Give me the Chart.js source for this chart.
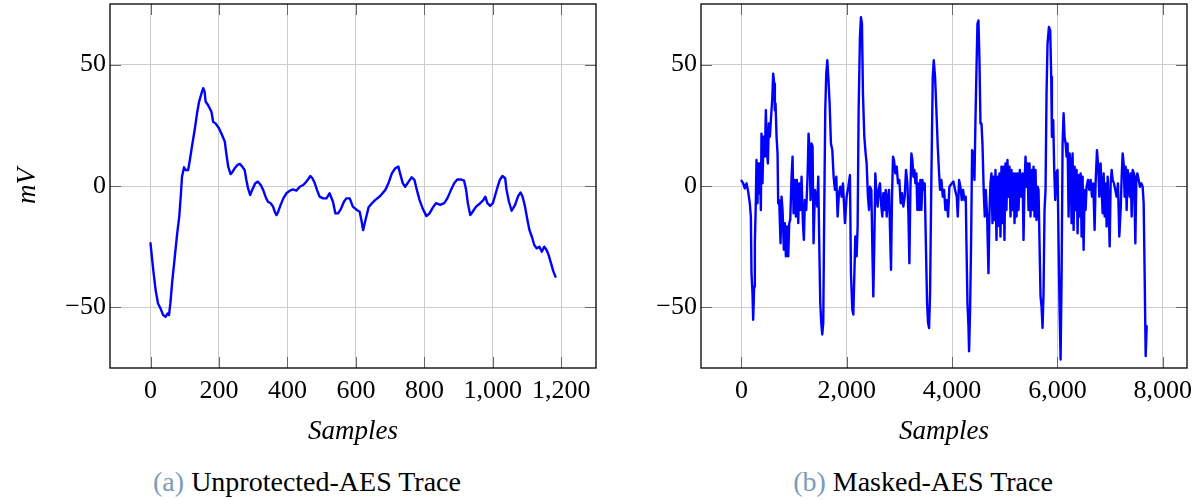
<!DOCTYPE html>
<html lang="en">
<head>
    <meta charset="UTF-8">
    <title>AES Traces</title>
    <style>
        body {
            margin: 0;
            background: #fff;
            font-family: 'Liberation Serif', 'Times New Roman', 'DejaVu Serif', serif;
        }

        #wrap {
            position: relative;
            width: 1203px;
            height: 500px;
        }

        .box {
            position: absolute;
            top: 0;
        }

        .caption {
            position: absolute;
            top: 466px;
            width: 400px;
            text-align: center;
            font-size: 28px;
            color: #000;
            white-space: nowrap;
        }

        .caption span {
            color: #7b9bbd;
        }
    </style>
</head>
<body>
<div id="wrap">
    <div class="box" style="left:0;width:610px;height:460px;"><canvas id="left"></canvas></div>
    <div class="box" style="left:601px;width:602px;height:460px;"><canvas id="right"></canvas></div>
    <div class="caption" style="left:107px;"><span>(a)</span> Unprotected-AES Trace</div>
    <div class="caption" style="left:723px;"><span>(b)</span> Masked-AES Trace</div>
</div>

<script src="https://cdn.jsdelivr.net/npm/chart.js"></script>
<script>
    // (a) unprotected trace, samples vs mV
    const leftX = [0, 8, 15, 22, 29, 37, 44, 50, 54, 58, 63, 71, 78, 84, 89, 92, 98, 102, 110, 115,
        121, 129, 136, 142, 149, 154, 158, 161, 168, 178, 183, 190, 200, 209, 217, 222, 227, 234, 240, 246,
        254, 261, 268, 275, 280, 285, 291, 297, 306, 314, 322, 329, 336, 343, 351, 358, 363, 368, 373, 380,
        388, 397, 407, 416, 426, 436, 446, 453, 460, 467, 473, 480, 487, 494, 504, 514, 523, 533, 540, 548,
        557, 565, 572, 582, 591, 603, 611, 616, 621, 628, 637, 647, 656, 671, 686, 695, 705, 715, 724, 729,
        737, 744, 754, 763, 771, 778, 786, 796, 806, 815, 825, 834, 846, 858, 867, 877, 887, 896, 906, 916,
        922, 927, 934, 941, 951, 963, 972, 978, 984, 992, 1000, 1007, 1014, 1021, 1028, 1036, 1040, 1047, 1055, 1065,
        1074, 1081, 1087, 1094, 1101, 1107, 1114, 1121, 1128, 1136, 1143, 1150, 1157, 1163, 1170, 1177, 1183];
    const leftY = [-23.6, -34.6, -42.9, -48.4, -50.4, -53.2, -53.9, -52.5, -53.2, -48.4, -40.1, -29.1, -19.5, -12.6, -3.0, 3.8, 7.7, 6.6, 6.6, 10.7,
        16.2, 23.1, 30.0, 34.8, 38.2, 40.3, 38.9, 34.8, 33.4, 30.6, 26.5, 25.8, 23.8, 21.0, 18.3, 12.8, 8.0, 4.9, 5.9, 7.3,
        8.7, 9.1, 8.0, 6.6, 2.5, -1.0, -3.7, -1.6, 1.1, 1.8, 0.4, -1.6, -4.4, -6.5, -7.1, -8.5, -10.6, -12.0, -10.6, -7.8,
        -5.1, -3.0, -1.9, -1.4, -1.9, -0.3, 0.4, 1.4, 2.7, 4.1, 3.2, 1.1, -1.9, -4.4, -5.1, -5.1, -3.0, -6.5, -11.3, -11.3,
        -9.2, -6.5, -5.1, -5.1, -8.5, -9.9, -10.6, -14.0, -18.2, -14.0, -8.8, -7.1, -5.8, -4.1, -1.6, 1.1, 5.2, 7.3, 8.0, 5.2,
        1.1, -0.3, 1.8, 3.6, 2.5, -1.6, -5.8, -9.6, -12.4, -11.3, -8.8, -7.1, -7.8, -7.1, -5.1, -1.9, 1.1, 2.7, 2.7, 2.2,
        -1.6, -7.1, -12.0, -10.6, -8.5, -7.1, -5.8, -4.4, -7.1, -8.2, -7.1, -3.7, -0.3, 2.7, 4.1, 3.2, -1.6, -6.5, -10.2, -7.8,
        -4.1, -2.7, -4.4, -8.5, -14.0, -18.2, -20.9, -24.3, -25.7, -25.0, -27.1, -25.0, -26.4, -28.5, -31.9, -35.3, -37.4];

    // (b) masked trace, samples vs mV
    const rightX = [0, 32, 63, 95, 127, 158, 178, 190, 209, 222, 241, 254, 273, 285, 304, 317, 336, 349, 368, 380,
        399, 418, 444, 463, 482, 501, 520, 539, 558, 583, 602, 621, 634, 647, 666, 685, 697, 716, 742, 761,
        780, 805, 824, 843, 862, 888, 907, 926, 951, 970, 989, 1014, 1033, 1052, 1078, 1097, 1122, 1141, 1167, 1185,
        1204, 1230, 1255, 1274, 1293, 1312, 1331, 1350, 1369, 1395, 1420, 1439, 1458, 1477, 1496, 1515, 1534, 1553, 1572, 1591,
        1610, 1630, 1649, 1674, 1699, 1725, 1750, 1775, 1801, 1826, 1851, 1877, 1902, 1927, 1965, 1997, 2029, 2060, 2079, 2105,
        2124, 2143, 2162, 2187, 2206, 2225, 2250, 2269, 2288, 2307, 2333, 2358, 2377, 2402, 2422, 2441, 2466, 2491, 2504, 2523,
        2542, 2567, 2586, 2605, 2631, 2650, 2675, 2694, 2720, 2739, 2758, 2783, 2802, 2821, 2840, 2859, 2878, 2897, 2922, 2948,
        2973, 2998, 3024, 3049, 3074, 3100, 3125, 3151, 3170, 3189, 3208, 3227, 3246, 3265, 3284, 3303, 3322, 3341, 3360, 3379,
        3398, 3417, 3436, 3455, 3480, 3506, 3525, 3544, 3563, 3582, 3607, 3633, 3652, 3677, 3702, 3728, 3753, 3772, 3797, 3823,
        3848, 3873, 3899, 3924, 3949, 3994, 4026, 4057, 4089, 4108, 4133, 4159, 4184, 4209, 4235, 4260, 4273, 4292, 4311, 4323,
        4342, 4361, 4380, 4400, 4425, 4444, 4463, 4482, 4501, 4520, 4539, 4558, 4577, 4602, 4621, 4640, 4666, 4691, 4710, 4729,
        4748, 4767, 4786, 4805, 4824, 4843, 4862, 4881, 4900, 4919, 4938, 4957, 4976, 4995, 5014, 5033, 5052, 5071, 5090, 5110,
        5129, 5148, 5167, 5186, 5205, 5224, 5243, 5262, 5287, 5313, 5338, 5357, 5376, 5395, 5414, 5433, 5452, 5471, 5490, 5509,
        5528, 5547, 5566, 5585, 5604, 5623, 5642, 5661, 5680, 5699, 5718, 5737, 5756, 5775, 5794, 5813, 5839, 5864, 5883, 5896,
        5921, 5940, 5959, 5978, 6003, 6023, 6042, 6061, 6080, 6099, 6118, 6137, 6156, 6175, 6194, 6213, 6232, 6251, 6270, 6289,
        6308, 6327, 6346, 6365, 6384, 6403, 6422, 6441, 6460, 6479, 6498, 6517, 6536, 6555, 6581, 6606, 6631, 6657, 6682, 6707,
        6726, 6752, 6777, 6796, 6821, 6840, 6860, 6879, 6898, 6917, 6935, 6955, 6974, 6993, 7012, 7031, 7050, 7075, 7100, 7126,
        7151, 7176, 7202, 7221, 7240, 7259, 7278, 7297, 7316, 7335, 7354, 7373, 7392, 7411, 7430, 7455, 7481, 7500, 7519, 7544,
        7569, 7595, 7620, 7639, 7658, 7677, 7696];
    const rightY = [2.2, 1.1, -1.0, 1.1, -2.3, -7.1, -12.6, -35.9, -44.1, -55.1, -41.4, -23.6, -5.8, 10.7, -7.1, 9.3, -3.0, 9.3, -9.9, 21.6,
        1.1, 20.3, 12.1, 31.2, 14.8, 9.3, 25.8, 20.3, 27.1, 35.3, 46.3, 42.2, 31.2, 34.0, 20.3, 13.4, -7.1, -5.8, -23.6, -4.4,
        -9.9, -26.3, -15.3, -29.0, -16.7, -29.0, -15.3, -14.0, 3.8, 12.1, -11.2, 2.5, -12.6, 2.5, -15.3, 1.1, -9.9, 3.8, -15.3, -22.2,
        -5.8, -9.9, 3.8, 21.6, 14.8, -5.8, 17.5, 16.2, -23.6, -1.6, -4.4, -8.5, 3.8, -23.6, -48.2, -56.4, -61.2, -56.4, -9.9, 31.2,
        46.3, 51.8, 44.9, 34.0, 17.5, 14.8, 3.8, -1.6, 3.8, -12.6, -3.0, -0.3, -4.4, 1.1, -15.3, -4.4, -0.3, 4.5, -35.9, -51.0,
        -53.0, -37.3, -20.8, -29.0, -16.7, 31.2, 61.4, 69.6, 66.9, 38.1, 20.3, 13.4, 9.3, -4.4, -9.9, -0.3, -1.6, -31.8, -45.5, -23.6,
        5.2, -4.4, -8.5, -1.6, 1.1, -7.1, -12.6, -3.0, -9.9, -1.6, -12.6, -4.4, -1.6, -18.1, -34.5, -4.4, 12.1, 10.7, 5.2, 8.0,
        1.1, 2.5, -7.1, -3.0, -8.5, -4.4, 6.6, 1.1, -11.2, -31.8, -1.6, 13.4, 10.7, 3.8, 6.6, 1.1, 5.2, -9.9, 1.1, -9.9,
        2.5, -9.9, 2.5, -1.6, 1.1, -27.7, -48.2, -56.4, -58.5, -44.1, 3.8, 44.9, 51.8, 44.9, 31.2, 16.2, 5.2, -1.6, 2.5, -4.4,
        -1.6, -9.9, -5.8, -12.6, -0.3, 1.1, 1.8, -1.6, -4.4, -12.6, 2.5, -0.3, -5.8, -1.6, -5.8, -4.4, -23.6, -48.2, -57.8, -68.1,
        -51.0, -23.6, 14.8, 13.4, 2.5, 27.1, 47.7, 66.9, 68.2, 51.8, 25.8, 25.8, 17.5, -3.0, -12.6, -1.6, -12.6, -35.9, -11.2, 1.1,
        5.2, -15.3, 3.8, -14.0, 6.6, -22.2, 3.8, -16.4, 5.2, -20.8, 8.0, -15.3, 8.0, -22.2, 9.3, -9.9, 10.7, -4.4, 8.0, -12.6,
        6.6, -9.9, 5.2, -15.3, 5.2, -12.6, 5.2, -9.9, 6.6, -4.4, 5.2, -22.2, 1.1, 12.1, -0.3, 9.3, -9.9, 9.3, -12.6, 6.6,
        -9.9, 8.0, -12.6, 6.6, -14.0, -0.3, -1.6, -23.6, -45.5, -49.6, -58.5, -44.1, -9.9, -1.6, 38.1, 58.6, 65.5, 64.1, 44.9, 20.3,
        27.1, 6.6, -5.8, 5.2, 6.6, -23.6, -51.0, -71.5, -37.3, 17.5, 30.0, 20.3, 17.5, 12.1, 17.5, -12.6, 13.4, 9.3, -15.3, 13.4,
        -18.1, 8.0, -9.9, 6.6, -19.5, 4.5, -12.6, 5.2, -20.8, 3.8, -26.3, -1.6, -9.9, -0.3, 2.5, -1.6, 2.5, -4.4, 1.1, -18.1,
        1.1, 14.8, 8.0, -4.4, 9.3, -1.6, -11.2, 5.2, -12.6, 1.1, -16.7, 3.8, -8.5, -24.9, 1.1, 6.6, 2.5, 1.1, -1.6, -4.4,
        1.1, -20.8, -9.9, 3.8, 13.4, 9.3, -4.4, 8.0, -9.9, 6.6, 2.5, -4.4, 5.2, -12.6, 6.6, 5.2, -23.6, 3.8, 5.2, 2.5,
        -0.3, 1.1, -0.3, -7.1, -37.3, -70.1, -57.8];

    const leftTicks = [0, 200, 400, 600, 800, 1000, 1200];
    const rightTicks = [0, 2000, 4000, 6000, 8000];
    const yTicks = [-50, 0, 50];

    Chart.defaults.font.family = "'Liberation Serif', 'Times New Roman', 'DejaVu Serif', serif";
    Chart.defaults.font.size = 26;
    Chart.defaults.color = '#000';

    function fmt(v) {
        const s = Math.abs(v).toLocaleString('en-US');
        return v < 0 ? '\u2212' + s : s;
    }

    // pgfplots-like box with inward ticks on all four sides
    const frame = {
        id: 'frame',
        afterDatasetsDraw(chart) {
            const {ctx, chartArea: a, scales} = chart;
            ctx.save();
            ctx.strokeStyle = '#666';
            ctx.lineWidth = 1;
            ctx.beginPath();
            scales.x.ticks.forEach(t => {
                const px = Math.round(scales.x.getPixelForValue(t.value)) + 0.5;
                ctx.moveTo(px, a.bottom); ctx.lineTo(px, a.bottom - 11);
                ctx.moveTo(px, a.top); ctx.lineTo(px, a.top + 11);
            });
            scales.y.ticks.forEach(t => {
                const py = Math.round(scales.y.getPixelForValue(t.value)) + 0.5;
                ctx.moveTo(a.left, py); ctx.lineTo(a.left + 11, py);
                ctx.moveTo(a.right, py); ctx.lineTo(a.right - 11, py);
            });
            ctx.stroke();
            ctx.strokeStyle = '#000';
            ctx.lineWidth = 1.3;
            ctx.strokeRect(a.left, a.top, a.right - a.left, a.bottom - a.top);
            ctx.restore();
        }
    };

    function makeChart(id, xs, ys, xTicks, xMin, xMax, yAxisWidth, padRight, showYTitle) {
        const ctx = document.getElementById(id).getContext('2d');
        return new Chart(ctx, {
            type: 'line',
            data: {
                datasets: [{
                    data: xs.map((x, i) => ({x: x, y: ys[i]})),
                    borderColor: '#0000ff',
                    borderWidth: 2.4,
                    borderJoinStyle: 'round',
                    borderCapStyle: 'round',
                    pointRadius: 0,
                    tension: 0,
                    fill: false
                }]
            },
            options: {
                responsive: true,
                maintainAspectRatio: false,
                animation: false,
                events: [],
                layout: {padding: {top: 4, right: padRight, left: 0, bottom: 0}},
                plugins: {legend: {display: false}, tooltip: {enabled: false}},
                scales: {
                    x: {
                        type: 'linear',
                        min: xMin,
                        max: xMax,
                        afterBuildTicks: s => { s.ticks = xTicks.map(v => ({value: v})); },
                        afterFit: s => { s.height = 92; s.paddingLeft = 0; s.paddingRight = 0; },
                        grid: {color: '#cccccc', lineWidth: 1, drawTicks: false},
                        border: {display: false},
                        ticks: {padding: 8, maxRotation: 0, autoSkip: false, callback: v => fmt(v)},
                        title: {display: true, text: 'Samples', font: {style: 'italic', size: 27}, padding: {top: 0, bottom: 12}}
                    },
                    y: {
                        type: 'linear',
                        min: -75,
                        max: 75,
                        afterBuildTicks: s => { s.ticks = yTicks.map(v => ({value: v})); },
                        afterFit: s => { s.width = yAxisWidth; s.paddingTop = 0; s.paddingBottom = 0; },
                        grid: {color: '#cccccc', lineWidth: 1, drawTicks: false},
                        border: {display: false},
                        ticks: {padding: 4, callback: v => fmt(v)},
                        title: {display: showYTitle, text: 'mV', font: {style: 'italic', size: 27}, padding: {top: 12, bottom: 0}}
                    }
                }
            },
            plugins: [frame]
        });
    }

    makeChart('left', leftX, leftY, leftTicks, -118.3, 1301.3, 110, 14, true);
    makeChart('right', rightX, rightY, rightTicks, -769, 8462, 100, 16, false);
</script>
</body>
</html>
